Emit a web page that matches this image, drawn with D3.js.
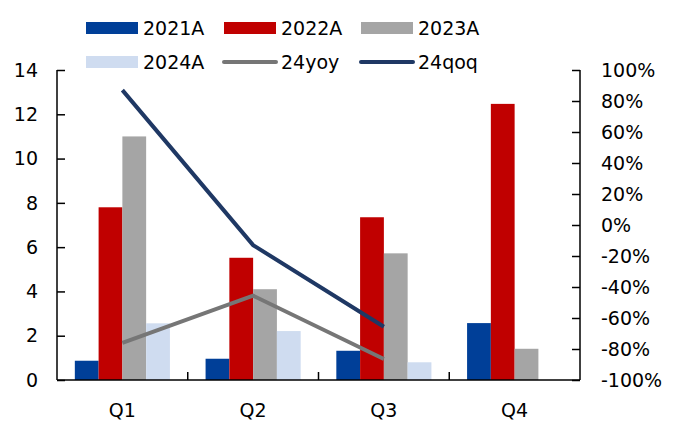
<!DOCTYPE html>
<html>
<head>
<meta charset="utf-8">
<script src="https://cdn.jsdelivr.net/npm/d3@7/dist/d3.min.js"></script>
<style>
  html, body { margin: 0; padding: 0; background: #fff; }
  svg text { font-family: "DejaVu Sans", Verdana, sans-serif; fill: #000; }
</style>
</head>
<body>
<svg id="chart" width="681" height="432"></svg>
<script>
// Quarterly values by year (left axis) and 2024 growth rates (right axis, %)
const quarters = ["Q1", "Q2", "Q3", "Q4"];
const barSeries = ["2021A", "2022A", "2023A", "2024A"];
const v2021 = [0.87, 0.96, 1.32, 2.57];
const v2022 = [7.8, 5.52, 7.35, 12.47];
const v2023 = [11.0, 4.1, 5.72, 1.41];
const v2024 = [2.56, 2.21, 0.8, null];
const yoy24 = [-76, -45.6, -86.5];
const qoq24 = [87, -13, -65.6];
const leftTicks = [0, 2, 4, 6, 8, 10, 12, 14];
const rightTicks = [-100, -80, -60, -40, -20, 0, 20, 40, 60, 80, 100];

const barColors = { "2021A": "#003f98", "2022A": "#c00000", "2023A": "#a5a5a5", "2024A": "#cfdcf0" };
const yoyColor = "#767676";
const qoqColor = "#1f3864";
const barValues = { "2021A": v2021, "2022A": v2022, "2023A": v2023, "2024A": v2024 };

const svg = d3.select("#chart");
const plot = { left: 57, right: 580, top: 70, bottom: 380 };
const fontSize = 19;

const x = d3.scaleBand().domain(quarters).range([plot.left, plot.right]).paddingInner(0).paddingOuter(0);
const yL = d3.scaleLinear().domain([0, 14]).range([plot.bottom, plot.top]);
const yR = d3.scaleLinear().domain([-100, 100]).range([plot.bottom, plot.top]);

// bars within each quarter: gap width 150% of a bar
const barW = x.bandwidth() / (barSeries.length + 1.5);
const inner = d3.scaleBand().domain(barSeries)
  .range([x.bandwidth() * 0.5 - barW * 2, x.bandwidth() * 0.5 + barW * 2]);

const rows = [];
quarters.forEach((q, i) => barSeries.forEach(s => {
  const v = barValues[s][i];
  if (v != null) rows.push({ q, s, v });
}));

svg.append("g").selectAll("rect").data(rows).join("rect")
  .attr("x", d => x(d.q) + inner(d.s))
  .attr("width", inner.bandwidth())
  .attr("y", d => yL(d.v))
  .attr("height", d => yL(0) - yL(d.v))
  .attr("fill", d => barColors[d.s]);

// growth lines at quarter centres
const line = d3.line()
  .x((d, i) => x(quarters[i]) + x.bandwidth() / 2)
  .y(d => yR(d));
svg.append("path").datum(yoy24).attr("d", line)
  .attr("fill", "none").attr("stroke", yoyColor).attr("stroke-width", 4);
svg.append("path").datum(qoq24).attr("d", line)
  .attr("fill", "none").attr("stroke", qoqColor).attr("stroke-width", 4);

// axes (ticks point inward)
const leftAxis = d3.axisRight(yL).tickValues(leftTicks).tickSize(8).tickFormat("");
const gL = svg.append("g").attr("transform", `translate(${plot.left},0)`).call(leftAxis);
const rightAxis = d3.axisLeft(yR).tickValues(rightTicks).tickSize(8).tickFormat("");
const gR = svg.append("g").attr("transform", `translate(${plot.right},0)`).call(rightAxis);
[gL, gR].forEach(g => {
  g.select(".domain").remove();
  g.selectAll("line").attr("stroke", "#000").attr("stroke-width", 1.5);
});
svg.append("line").attr("x1", plot.left).attr("x2", plot.left)
  .attr("y1", plot.top).attr("y2", plot.bottom).attr("stroke", "#000").attr("stroke-width", 1.5);
svg.append("line").attr("x1", plot.right).attr("x2", plot.right)
  .attr("y1", plot.top).attr("y2", plot.bottom).attr("stroke", "#000").attr("stroke-width", 1.5);

// category boundaries on the x axis
const bounds = quarters.slice(1).map(q => x(q));
svg.append("g").selectAll("line").data(bounds).join("line")
  .attr("x1", d => d).attr("x2", d => d)
  .attr("y1", plot.bottom).attr("y2", plot.bottom - 8)
  .attr("stroke", "#000").attr("stroke-width", 1.5);
svg.append("line").attr("x1", plot.left).attr("x2", plot.right)
  .attr("y1", plot.bottom).attr("y2", plot.bottom).attr("stroke", "#000").attr("stroke-width", 1.5);

// tick labels
svg.append("g").selectAll("text").data(leftTicks).join("text")
  .attr("x", 38).attr("y", d => yL(d)).attr("dy", "0.35em")
  .attr("text-anchor", "end").attr("font-size", fontSize).text(d => d);
svg.append("g").selectAll("text").data(rightTicks).join("text")
  .attr("x", 601).attr("y", d => yR(d)).attr("dy", "0.35em")
  .attr("text-anchor", "start").attr("font-size", fontSize).text(d => d + "%");
svg.append("g").selectAll("text").data(quarters).join("text")
  .attr("x", d => x(d) + x.bandwidth() / 2).attr("y", 410).attr("dy", "0.35em")
  .attr("text-anchor", "middle").attr("font-size", fontSize).text(d => d);

// legend
const legendItems = [
  { name: "2021A", type: "bar", color: barColors["2021A"], x: 86, y: 28 },
  { name: "2022A", type: "bar", color: barColors["2022A"], x: 224, y: 28 },
  { name: "2023A", type: "bar", color: barColors["2023A"], x: 361, y: 28 },
  { name: "2024A", type: "bar", color: barColors["2024A"], x: 86, y: 62 },
  { name: "24yoy", type: "line", color: yoyColor, x: 224, y: 62 },
  { name: "24qoq", type: "line", color: qoqColor, x: 361, y: 62 }
];
const lg = svg.append("g").selectAll("g").data(legendItems).join("g")
  .attr("transform", d => `translate(${d.x},${d.y})`);
lg.filter(d => d.type === "bar").append("rect")
  .attr("x", 0).attr("y", -6).attr("width", 52).attr("height", 12).attr("fill", d => d.color);
lg.filter(d => d.type === "line").append("line")
  .attr("x1", 0).attr("x2", 52).attr("y1", 0).attr("y2", 0)
  .attr("stroke", d => d.color).attr("stroke-width", 4).attr("stroke-linecap", "round");
lg.append("text").attr("x", 57).attr("y", 0).attr("dy", "0.35em")
  .attr("font-size", fontSize).text(d => d.name);
</script>
</body>
</html>
